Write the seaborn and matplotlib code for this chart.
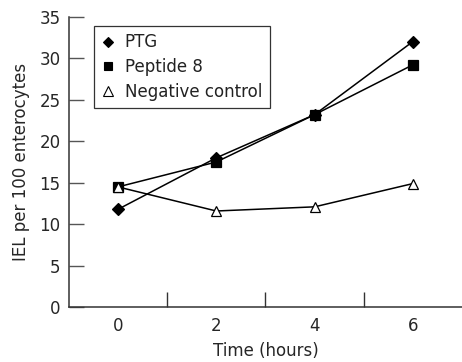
import pandas as pd
import matplotlib
matplotlib.use('Agg')
import matplotlib.pyplot as plt
from matplotlib.lines import Line2D
import seaborn as sns

hours = [0, 2, 4, 6]
ptg = [11.8, 18.0, 23.2, 32.0]
peptide8 = [14.5, 17.5, 23.2, 29.2]
negative = [14.5, 11.6, 12.1, 14.9]
labels = ['PTG', 'Peptide 8', 'Negative control']

sns.set_style('ticks')
plt.rcParams['font.family'] = ['DejaVu Sans']
plt.rcParams['text.color'] = '#222222'

fig = plt.figure(figsize=(4.62, 3.62), dpi=100)
ax = fig.add_axes([0.149, 0.151, 0.851, 0.803])

styles = [('D', 'black', 6.5), ('s', 'black', 6.5), ('^', 'white', 7.5)]
series = [ptg, peptide8, negative]
handles = []
for vals, lab, (mk, fc, ms) in zip(series, labels, styles):
    df = pd.DataFrame({'hours': hours, 'iel': vals})
    sns.lineplot(data=df, x='hours', y='iel', ax=ax, color='black', linewidth=1.1,
                 marker=mk, markersize=ms, markerfacecolor=fc, markeredgecolor='black',
                 markeredgewidth=0.9)
    handles.append(Line2D([], [], linestyle='none', marker=mk, markersize=ms - 1,
                          markerfacecolor=fc, markeredgecolor='black', markeredgewidth=0.8))

ax.set_xlim(-1, 7)
ax.set_ylim(0, 35)
ax.set_yticks(range(0, 36, 5))
ax.set_xticks(hours)
ax.set_xticks([1, 3, 5], minor=True)
ax.tick_params(axis='x', which='major', length=0, pad=7, labelsize=12)
ax.tick_params(axis='x', which='minor', direction='in', length=11, width=1, color='#333333')
ax.tick_params(axis='y', direction='in', length=11, width=1, pad=6, labelsize=12, color='#555555')
sns.despine(ax=ax)
for s in ['left', 'bottom']:
    ax.spines[s].set_color('#333333')
    ax.spines[s].set_linewidth(1.1)

ax.set_xlabel('Time (hours)', fontsize=12, labelpad=5)
ax.set_ylabel('IEL per 100 enterocytes', fontsize=12, labelpad=7)

leg = ax.legend(handles, labels, loc='upper left', bbox_to_anchor=(0.064, 0.968),
                borderaxespad=0, fontsize=12, frameon=True, fancybox=False,
                edgecolor='#333333', framealpha=1, handlelength=0.8, handletextpad=0.6,
                borderpad=0.45, labelspacing=0.4)
leg.get_frame().set_linewidth(0.9)

fig.savefig('out.png', dpi=100)
